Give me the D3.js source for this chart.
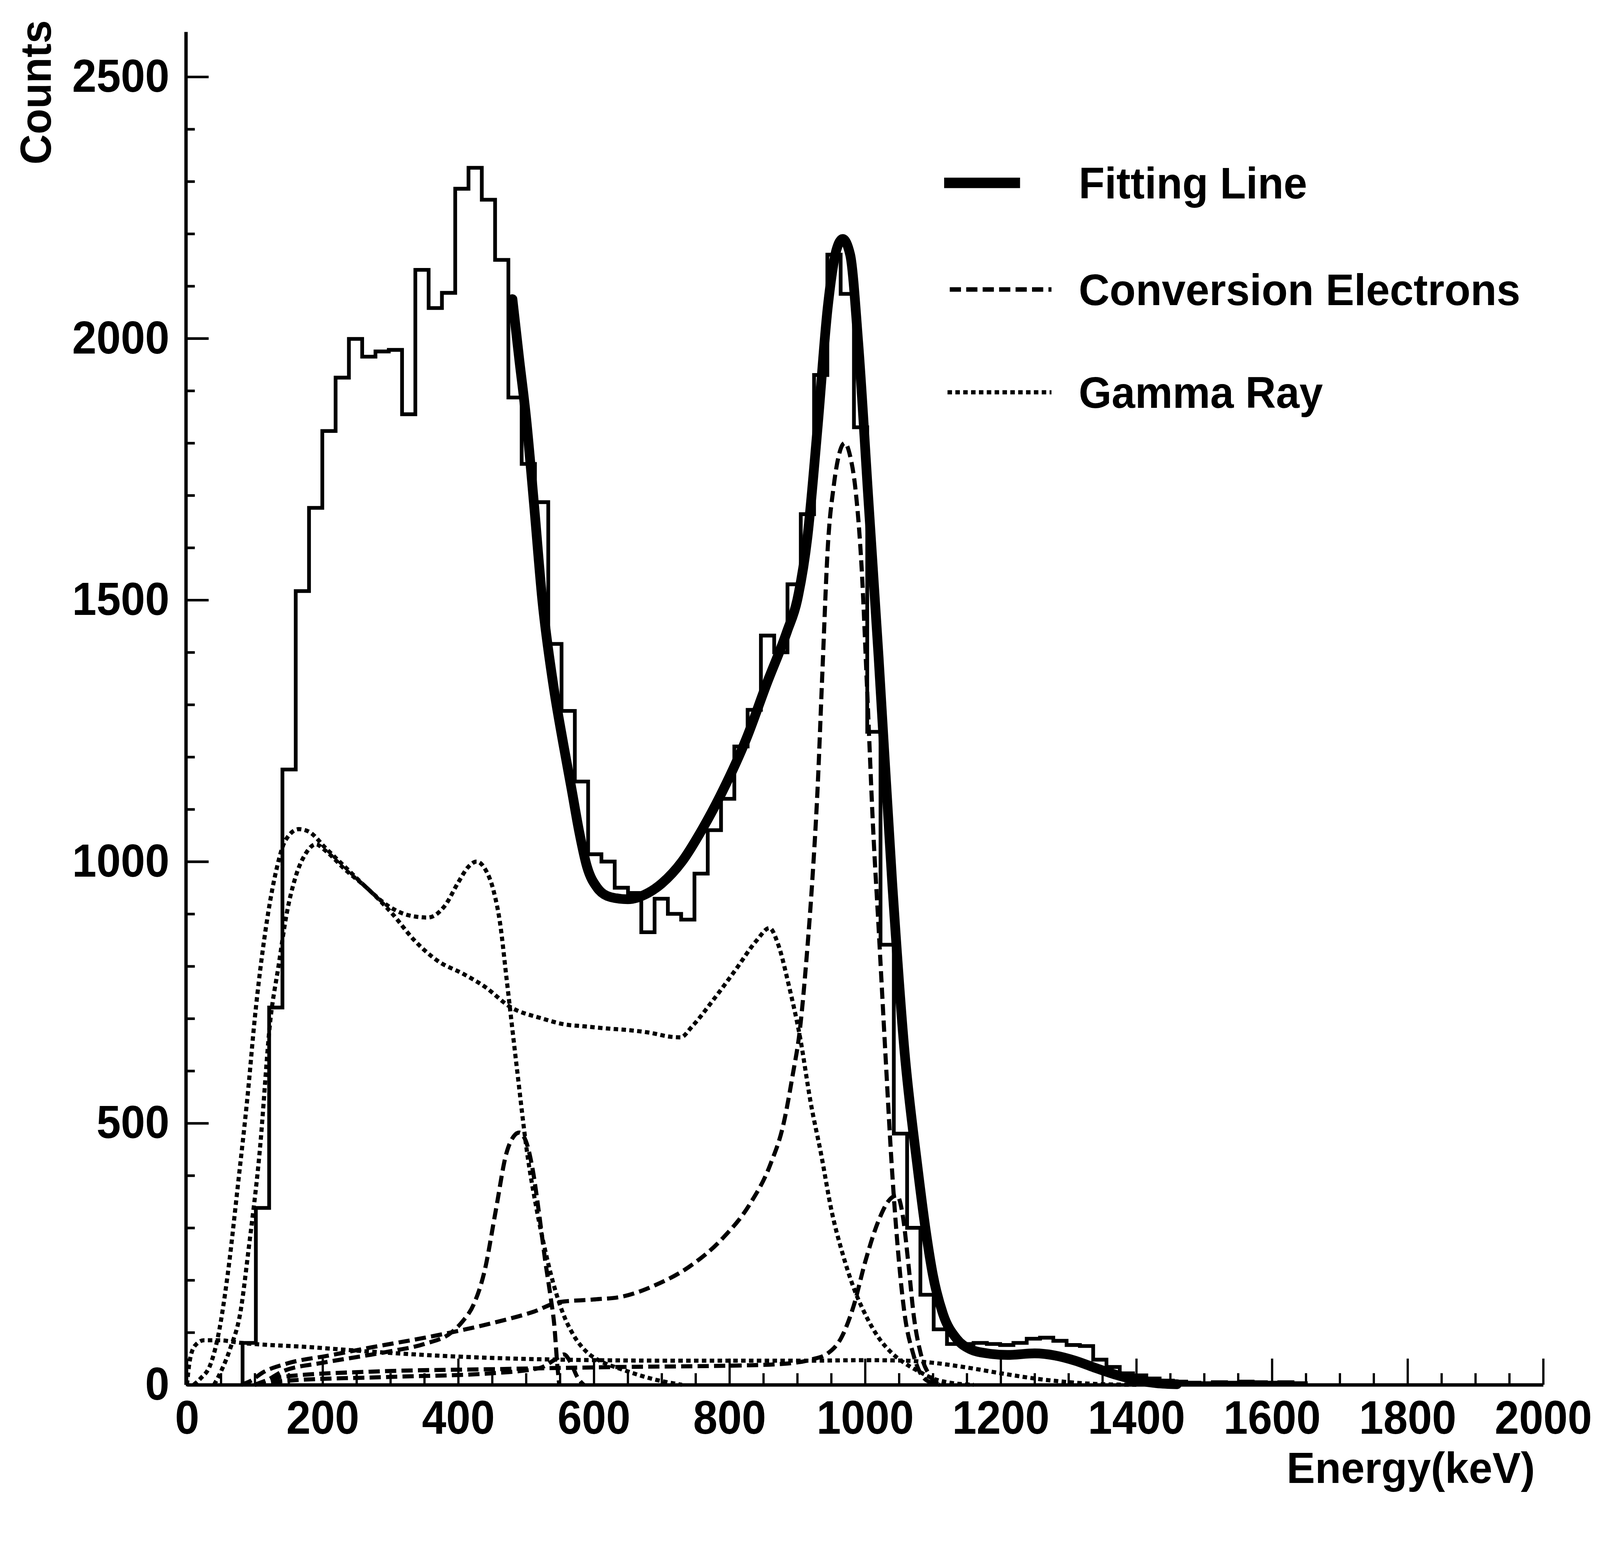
<!DOCTYPE html>
<html>
<head>
<meta charset="utf-8">
<script src="https://cdn.jsdelivr.net/npm/d3@7"></script>
<style>
  html, body { margin: 0; padding: 0; background: #fff; overflow: hidden; }
  #chart { display: block; width: 100vw; height: 100vh; }
  svg text { font-family: "Liberation Sans", Arial, sans-serif; font-weight: bold; fill: #000; }
</style>
</head>
<body>
<svg id="chart"></svg>
<script>
// Energy spectrum with fitted components

const width = 4279;
const height = 4006;

const margin = {
    top: 85,
    left: 500,
    bottom: 303,
    right: 152,
};

// histogram: uniform bins, counts
const binStart = 82;
const binWidth = 19.6;
const histCounts = [
    80, 338, 721, 1176, 1517, 1676, 1823, 1925, 1999, 1965,
    1975, 1978, 1855, 2131, 2058, 2087, 2286, 2326, 2265, 2150,
    1887, 1760, 1687, 1416, 1288, 1153, 1014, 1000, 950, 940,
    865, 929, 900, 889, 977, 1060, 1120, 1220, 1290, 1432,
    1400, 1530, 1664, 1930, 2160, 2085, 1830, 1248, 841, 480,
    300, 172, 106, 78, 78, 80, 78, 76, 80, 88,
    90, 84, 76, 74, 48, 34, 22, 18, 12, 8,
    6, 4, 3, 5, 4, 6, 5, 4, 5, 3
];

// [energy keV, counts]
const fitLine = [
    [480, 2075], [490, 1960], [500, 1850], [512, 1680], [524, 1500], [540, 1340],
    [555, 1225], [567, 1140], [578, 1060], [590, 990], [605, 950], [625, 932],
    [650, 928], [680, 940], [700, 958], [730, 1000], [760, 1062], [790, 1135],
    [825, 1235], [855, 1340], [885, 1440], [900, 1500], [915, 1620], [930, 1830],
    [945, 2060], [958, 2170], [967, 2190], [978, 2160], [990, 1990], [1005, 1690],
    [1020, 1390], [1040, 960], [1058, 640], [1077, 420], [1090, 290], [1100, 210],
    [1115, 135], [1135, 88], [1155, 68], [1180, 60], [1210, 57], [1250, 60],
    [1280, 56], [1310, 46], [1340, 32], [1370, 19], [1400, 9], [1430, 3], [1460, 1]
];

const ceK976 = [
    [80, 0], [95, 8], [110, 22], [146, 40], [210, 56], [274, 72], [347, 89],
    [411, 106], [457, 120], [512, 140], [549, 158], [600, 163], [640, 168],
    [690, 190], [740, 225], [790, 280], [830, 345], [860, 420], [880, 500],
    [893, 590], [904, 680], [914, 820], [922, 960], [930, 1140], [937, 1360],
    [945, 1600], [954, 1720], [962, 1780], [970, 1800], [978, 1775], [986, 1710],
    [995, 1560], [1003, 1330], [1012, 1060], [1020, 873], [1030, 633], [1039, 426],
    [1049, 250], [1058, 138], [1071, 59], [1083, 19], [1099, 3], [1110, 0]
];

const ceK482 = [
    [100, 0], [120, 10], [140, 25], [200, 42], [260, 55], [300, 64], [350, 78],
    [390, 100], [407, 122], [423, 154], [439, 218], [455, 330], [471, 442],
    [482, 475], [490, 482], [500, 465], [510, 410], [520, 320], [528, 240],
    [536, 170], [542, 110], [546, 40], [549, 0]
];

const ceL1048 = [
    [100, 0], [140, 15], [270, 25], [460, 30], [640, 34], [820, 37], [880, 40],
    [920, 48], [945, 60], [965, 90], [983, 150], [1000, 234], [1020, 314],
    [1035, 352], [1047, 362], [1056, 320], [1064, 230], [1072, 130], [1082, 60],
    [1095, 18], [1110, 0]
];

const ceL554 = [
    [100, 0], [150, 8], [300, 15], [450, 22], [520, 32], [545, 50], [556, 58],
    [566, 42], [576, 14], [585, 0]
];

const gamma570 = [
    [10, 0], [20, 12], [35, 40], [47, 100], [60, 210], [75, 380], [90, 560],
    [100, 700], [116, 870], [132, 985], [145, 1040], [165, 1062], [180, 1057],
    [205, 1025], [233, 990], [265, 950], [297, 915], [328, 897], [355, 893],
    [380, 915], [400, 960], [415, 990], [427, 1000], [440, 985], [452, 945],
    [462, 880], [471, 780], [487, 600], [502, 440], [515, 340], [526, 270],
    [540, 195], [555, 135], [570, 95], [590, 62], [610, 45], [640, 30],
    [690, 10], [730, 0]
];

const gamma1064 = [
    [40, 0], [50, 25], [64, 70], [79, 140], [91, 260], [107, 442], [123, 697],
    [135, 800], [147, 900], [160, 970], [175, 1015], [190, 1033], [205, 1020],
    [233, 985], [265, 950], [303, 900], [335, 850], [370, 810], [408, 785],
    [439, 761], [477, 722], [524, 700], [556, 689], [587, 685], [619, 681],
    [650, 678], [682, 673], [714, 665], [728, 664], [745, 685], [777, 737],
    [809, 793], [840, 849], [859, 873], [872, 841], [888, 761], [904, 665],
    [920, 538], [935, 442], [951, 330], [967, 250], [983, 186], [999, 138],
    [1020, 90], [1040, 60], [1060, 40], [1080, 25], [1100, 12], [1130, 3], [1160, 0]
];

const gammaFlat = [
    [0, 0], [4, 45], [12, 75], [25, 85], [47, 85], [80, 80], [180, 72], [275, 63],
    [365, 56], [457, 51], [550, 48], [730, 46], [910, 46], [1000, 47], [1060, 46],
    [1100, 42], [1150, 33], [1200, 22], [1250, 12], [1300, 5], [1350, 1], [1400, 0]
];

const xMajorTicks = d3.range(0, 2001, 200);
const xMinorTicks = d3.range(0, 2001, 50).filter((d) => d % 200 !== 0);
const yMajorTicks = d3.range(0, 2501, 500);
const yMinorTicks = d3.range(0, 2501, 100).filter((d) => d % 500 !== 0);

const legendItems = ["Fitting Line", "Conversion Electrons", "Gamma Ray"];

// viewBox keeps the whole chart inside the window, pinned to the top
const svg = d3
    .select("#chart")
    .attr("viewBox", `0 0 ${width} ${height}`)
    .attr("preserveAspectRatio", "xMidYMin meet")
    .style("background", "#fff");

const x = d3
    .scaleLinear()
    .domain([0, 2000])
    .range([margin.left, width - margin.right]);

const y = d3
    .scaleLinear()
    .domain([0, 2586])
    .range([height - margin.bottom, margin.top]);

// axes
function styleTickText(g, size) {
    g.selectAll("text")
        .attr("font-size", size)
        .attr("textLength", (d) => String(d).length * 65)
        .attr("lengthAdjust", "spacingAndGlyphs");
}

const yAxis = svg
    .append("g")
    .attr("transform", `translate(${margin.left - 3},0)`)
    .call(
        d3.axisLeft(y)
            .tickValues(yMajorTicks)
            .tickSize(-61)
            .tickSizeOuter(0)
            .tickPadding(44)
            .tickFormat(d3.format("d"))
    );
yAxis.select(".domain").attr("stroke-width", 9);
yAxis.selectAll(".tick line").attr("stroke-width", 7);
styleTickText(yAxis, 124);

const yMinor = svg
    .append("g")
    .attr("transform", `translate(${margin.left - 3},0)`)
    .call(d3.axisLeft(y).tickValues(yMinorTicks).tickSize(-24).tickFormat(""));
yMinor.select(".domain").remove();
yMinor.selectAll(".tick line").attr("stroke-width", 7);

const xAxis = svg
    .append("g")
    .attr("transform", `translate(0,${y(0)})`)
    .call(
        d3.axisBottom(x)
            .tickValues(xMajorTicks)
            .tickSize(-70)
            .tickSizeOuter(0)
            .tickPadding(42)
            .tickFormat(d3.format("d"))
    );
xAxis.select(".domain").attr("stroke-width", 9);
xAxis.selectAll(".tick line").attr("stroke-width", 6);
styleTickText(xAxis, 126);

const xMinor = svg
    .append("g")
    .attr("transform", `translate(0,${y(0)})`)
    .call(d3.axisBottom(x).tickValues(xMinorTicks).tickSize(-31).tickFormat(""));
xMinor.select(".domain").remove();
xMinor.selectAll(".tick line").attr("stroke-width", 6);

svg.append("text")
    .attr("transform", "translate(136,440) rotate(-90)")
    .attr("font-size", 116)
    .attr("textLength", 386)
    .attr("lengthAdjust", "spacingAndGlyphs")
    .text("Counts");

svg.append("text")
    .attr("x", 3441)
    .attr("y", 3966)
    .attr("font-size", 116)
    .attr("textLength", 664)
    .attr("lengthAdjust", "spacingAndGlyphs")
    .text("Energy(keV)");

// component curves
const curveLine = d3
    .line()
    .x((d) => x(d[0]))
    .y((d) => y(d[1]))
    .curve(d3.curveMonotoneX);

const dashed = "30,14";
const dotted = "12,9";

const components = [
    { data: ceK976, dash: dashed },
    { data: ceK482, dash: dashed },
    { data: ceL1048, dash: dashed },
    { data: ceL554, dash: dashed },
    { data: gamma570, dash: dotted },
    { data: gamma1064, dash: dotted },
    { data: gammaFlat, dash: dotted },
];

svg.append("g")
    .selectAll("path")
    .data(components)
    .join("path")
    .attr("d", (d) => curveLine(d.data))
    .attr("fill", "none")
    .attr("stroke", "#000")
    .attr("stroke-width", 11)
    .attr("stroke-dasharray", (d) => d.dash);

// histogram
const histPoints = [[binStart, 0]];
histCounts.forEach((c, i) => histPoints.push([binStart + i * binWidth, c]));
histPoints.push([binStart + histCounts.length * binWidth, 0]);

svg.append("path")
    .attr(
        "d",
        d3.line()
            .x((d) => x(d[0]))
            .y((d) => y(d[1]))
            .curve(d3.curveStepAfter)(histPoints)
    )
    .attr("fill", "none")
    .attr("stroke", "#000")
    .attr("stroke-width", 10);

// fit
svg.append("path")
    .attr("d", curveLine(fitLine))
    .attr("fill", "none")
    .attr("stroke", "#000")
    .attr("stroke-width", 26)
    .attr("stroke-linejoin", "round")
    .attr("stroke-linecap", "round");

// legend
const legendRowY = [489, 774, 1049];
const legendStyles = [
    { w: 28, dash: null, x0: 2525, x1: 2728, len: 611, size: 118 },
    { w: 12, dash: dashed, x0: 2540, x1: 2812, len: 1181, size: 118 },
    { w: 11, dash: dotted, x0: 2534, x1: 2812, len: 653, size: 118 },
];

const gLegend = svg.append("g");

legendItems.forEach((label, i) => {
    const s = legendStyles[i];
    gLegend
        .append("line")
        .attr("x1", s.x0)
        .attr("x2", s.x1)
        .attr("y1", legendRowY[i])
        .attr("y2", legendRowY[i])
        .attr("stroke", "#000")
        .attr("stroke-width", s.w)
        .attr("stroke-dasharray", s.dash);

    gLegend
        .append("text")
        .attr("x", 2885)
        .attr("y", legendRowY[i] + 42)
        .attr("font-size", s.size)
        .attr("textLength", s.len)
        .attr("lengthAdjust", "spacingAndGlyphs")
        .text(label);
});
</script>
</body>
</html>
